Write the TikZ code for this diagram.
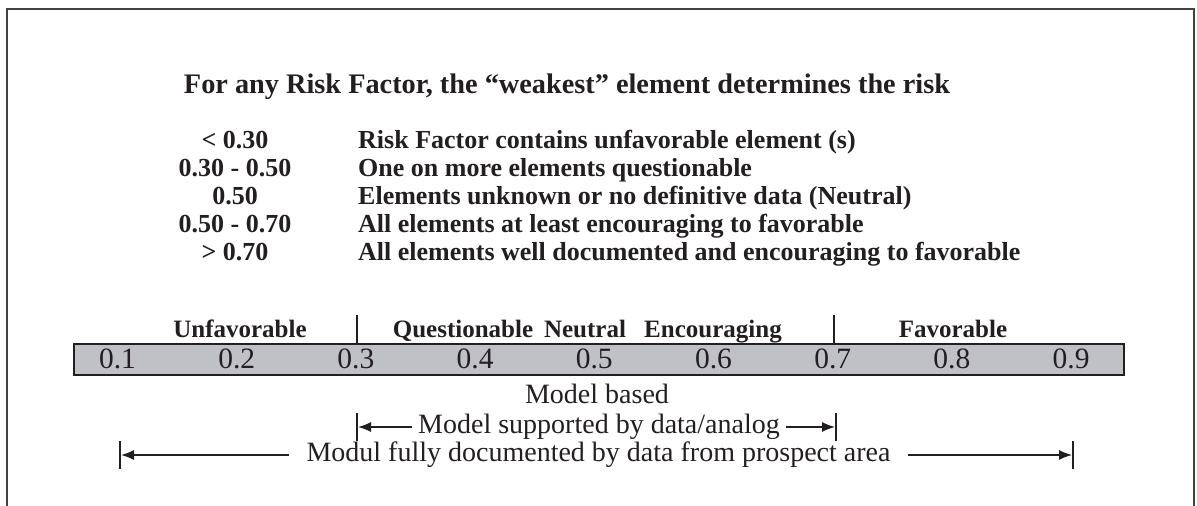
\documentclass[tikz,border=0pt]{standalone}
\usepackage{fontspec}
\setmainfont{Liberation Serif}
\usetikzlibrary{arrows.meta}
\definecolor{ink}{HTML}{231F20}
\definecolor{barfill}{HTML}{C0C1C5}
\tikzset{
  big/.style={font=\fontsize{25}{30}\selectfont\bfseries, text=ink, inner sep=0pt},
  rowtxt/.style={font=\fontsize{26}{30}\selectfont\bfseries, text=ink, inner sep=0pt},
  ttl/.style={font=\fontsize{28.3}{32}\selectfont\bfseries, text=ink, inner sep=0pt},
  reg/.style={font=\fontsize{28}{32}\selectfont, text=ink, inner sep=0pt},
  num/.style={font=\fontsize{29.5}{32}\selectfont, text=ink, inner sep=0pt},
  arr/.style={draw=ink, line width=1.3pt, -{Latex[length=13pt,width=10pt]}},
  endbar/.style={draw=ink, line width=1.5pt},
}
\begin{document}
\begin{tikzpicture}[x=1pt,y=-1pt]
\useasboundingbox (0,0) rectangle (1197,506);
% frame
\draw[draw=ink!85, line width=1.8pt] (7,510) -- (7,9) -- (1194,9) -- (1194,510);
% title
\node[ttl, anchor=base] (title) at (567,93) {For any Risk Factor, the “weakest” element determines the risk};
% list
\foreach \i/\v/\t in {0/{< 0.30}/{Risk Factor contains unfavorable element (s)},
  1/{0.30 - 0.50}/{One on more elements questionable},
  2/{0.50}/{Elements unknown or no definitive data (Neutral)},
  3/{0.50 - 0.70}/{All elements at least encouraging to favorable},
  4/{> 0.70}/{All elements well documented and encouraging to favorable}}{
  \node[rowtxt, anchor=base] (v\i) at (235,{148+28.2*\i}) {\v};
  \node[rowtxt, anchor=base west] (t\i) at (358,{148+28.2*\i}) {\t};
}
% bar
\node[draw=ink, line width=1.8pt, fill=barfill, minimum width=1050pt, minimum height=31pt, inner sep=0pt, anchor=north west] (bar) at (73,343) {};
\foreach \i in {1,...,9}{
  \node[num, anchor=base] (n\i) at ({117.5+119.2*(\i-1)},368) {0.\i};
}
% ticks
\coordinate (k3) at (357,343);
\coordinate (k7) at (834,343);
\draw[endbar] (k3) -- ++(0,-28);
\draw[endbar] (k7) -- ++(0,-28);
% categories
\node[big, anchor=base] (c1) at (240,337) {Unfavorable};
\node[big, anchor=base] (c2) at (463,337) {Questionable};
\node[big, anchor=base] (c3) at (585,337) {Neutral};
\node[big, anchor=base] (c4) at (713,337) {Encouraging};
\node[big, anchor=base] (c5) at (953,337) {Favorable};
% lower texts
\node[reg, anchor=base] (mb) at (597,403) {Model based};
\coordinate (sL) at (357,427);
\coordinate (sR) at (836,427);
\node[reg, inner xsep=6pt] (ms) at (599,427) {Model supported by data/analog};
\draw[endbar] ([yshift=-14pt]sL) -- ([yshift=14pt]sL);
\draw[endbar] ([yshift=-14pt]sR) -- ([yshift=14pt]sR);
\draw[arr] (ms.west) -- ([xshift=1pt]sL);
\draw[arr] (ms.east) -- ([xshift=-1pt]sR);
\coordinate (fL) at (120,455);
\coordinate (fR) at (1073,455);
\node[reg, inner xsep=17pt] (mf) at (598.5,455) {Modul fully documented by data from prospect area};
\draw[endbar] ([yshift=-14pt]fL) -- ([yshift=14pt]fL);
\draw[endbar] ([yshift=-14pt]fR) -- ([yshift=14pt]fR);
\draw[arr] (mf.west) -- ([xshift=1pt]fL);
\draw[arr] (mf.east) -- ([xshift=-1pt]fR);
\end{tikzpicture}
\end{document}
